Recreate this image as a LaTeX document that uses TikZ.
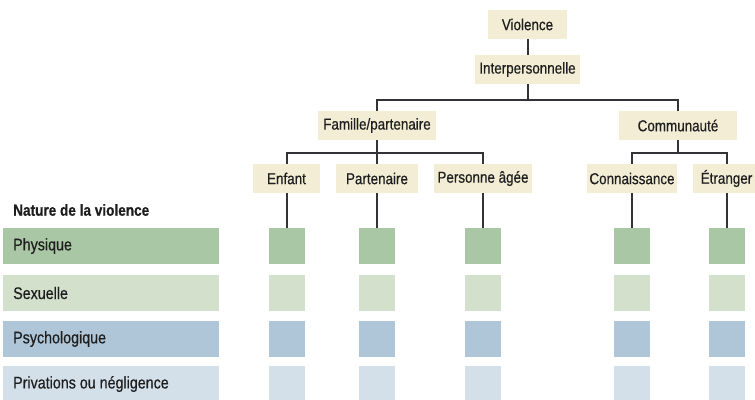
\documentclass[tikz,border=0pt]{standalone}
\usepackage{fontspec}
\setmainfont{Liberation Sans}[FakeStretch=0.85, FakeBold=0.6]
\newfontfamily\regfont{Liberation Sans}[FakeStretch=0.85, FakeBold=0.5]
\definecolor{beige}{RGB}{242,237,212}
\definecolor{dgreen}{RGB}{169,199,164}
\definecolor{lgreen}{RGB}{210,224,204}
\definecolor{dblue}{RGB}{175,197,216}
\definecolor{lblue}{RGB}{211,224,234}
\definecolor{linec}{RGB}{50,50,55}
\definecolor{txt}{RGB}{30,30,30}
\tikzset{
  box/.style={rectangle, fill=beige, minimum height=29pt, inner sep=0pt, text=txt, font=\regfont\fontsize{15.8}{16}\selectfont},
  sq/.style={rectangle, minimum width=36pt, minimum height=36pt, inner sep=0pt},
  band/.style={rectangle, minimum width=216pt, minimum height=36pt, inner sep=0pt},
  bandlabel/.style={anchor=west, inner sep=0pt, text=txt, font=\regfont\fontsize{16.8}{17}\selectfont},
  conn/.style={draw=linec, line width=2pt},
}
\begin{document}
\begin{tikzpicture}[x=1pt,y=-1pt]
\useasboundingbox (0,0) rectangle (755,399);
\clip (0,0) rectangle (755,399);
% tree nodes
\node[box, minimum width=79pt] (vio) at (527.5,24.5) {Violence};
\node[box, minimum width=105pt] (inter) at (527.5,69.5) {Interpersonnelle};
\node[box, minimum width=118pt] (fam) at (377,125.5) {Famille/partenaire};
\node[box, minimum width=118pt] (com) at (678,125.5) {Communauté};
\node[box, minimum width=67pt] (enf) at (286.5,178.5) {Enfant};
\node[box, minimum width=82pt] (par) at (377,178.5) {Partenaire};
\node[box, minimum width=98pt] (pag) at (483,178.5) {Personne âgée};
\node[box, minimum width=90pt] (con) at (632,178.5) {Connaissance};
\node[box, minimum width=67pt] (etr) at (726.5,178.5) {Étranger};
% header
\node[anchor=west, inner sep=0pt, text=txt, font=\fontsize{16}{16}\selectfont\bfseries] (hdr) at (13,210) {Nature de la violence};
% bands
\node[band, fill=dgreen] (b1) at (111,246) {};
\node[band, fill=lgreen] (b2) at (111,293) {};
\node[band, fill=dblue] (b3) at (111,339) {};
\node[band, fill=lblue] (b4) at (111,384) {};
\node[bandlabel] (l1) at (13,246) {Physique};
\node[bandlabel] (l2) at (13,293) {Sexuelle};
\node[bandlabel] (l3) at (13,339) {Psychologique};
\node[bandlabel] (l4) at (13,384) {Privations ou négligence};
% squares
\foreach \n/\x in {enf/286.5, par/377, pag/483, con/632, etr/726.5}{
  \node[sq, fill=dgreen] (\n1) at (\x,246) {};
  \node[sq, fill=lgreen] (\n2) at (\x,293) {};
  \node[sq, fill=dblue] (\n3) at (\x,339) {};
  \node[sq, fill=lblue] (\n4) at (\x,384) {};
}
% connectors
\draw[conn] (vio.south) -- (inter.north);
\draw[conn] (inter.south) -- ++(0,16) coordinate (j1);
\draw[conn] (fam.north) |- (j1) -| (com.north);
\draw[conn] (fam.south) -- ++(0,13) coordinate (j2);
\draw[conn] (enf.north) |- (j2) -| (pag.north);
\draw[conn] (j2) -- (par.north);
\draw[conn] (com.south) -- ++(0,13) coordinate (j3);
\draw[conn] (con.north) |- (j3) -| (etr.north);
\foreach \n in {enf,par,pag,con,etr}{
  \draw[conn] (\n.south) -- (\n1.north);
}
\end{tikzpicture}
\end{document}
